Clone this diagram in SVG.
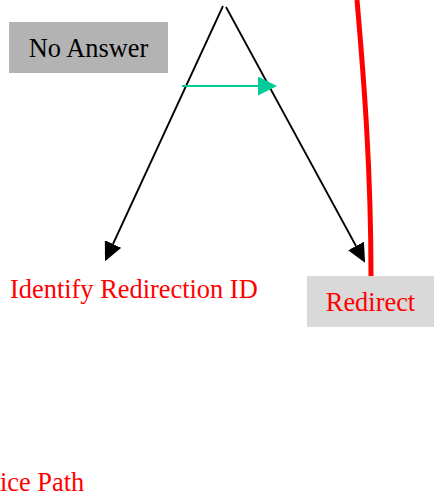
<svg xmlns="http://www.w3.org/2000/svg" width="436" height="498" viewBox="0 0 436 498">
  <style>
    .lbl { font-family: "Liberation Serif", "Times New Roman", serif; font-size: 26.4px; }
    .red { fill: #ff0000; }
    .blk { fill: #000000; }
    .edge { fill: none; stroke: #000000; stroke-width: 1.8; }
  </style>
  <defs>
    <marker id="headBlack" viewBox="0 0 19 18" refX="0" refY="9" markerWidth="19" markerHeight="18" markerUnits="userSpaceOnUse" orient="auto">
      <path d="M0,0 L19,9 L0,18 Z" fill="#000000"/>
    </marker>
    <marker id="headGreen" viewBox="0 0 19 19" refX="0" refY="9.5" markerWidth="19" markerHeight="19" markerUnits="userSpaceOnUse" orient="auto">
      <path d="M0,0 L19,9.5 L0,19 Z" fill="#00cc99"/>
    </marker>
  </defs>

  <g id="connectors">
    <path class="edge" d="M223,6 L113,244" marker-end="url(#headBlack)"/>
    <path class="edge" d="M226,7 L356,246" marker-end="url(#headBlack)"/>
    <path d="M182,86 L258,86" fill="none" stroke="#00cc99" stroke-width="2" marker-end="url(#headGreen)"/>
    <path d="M357,0 C364,80 371,170 371,277" fill="none" stroke="#ff0000" stroke-width="5"/>
  </g>

  <g id="no-answer">
    <rect x="9" y="22" width="159" height="51" fill="#b3b3b3"/>
    <text class="lbl blk" x="88.5" y="57" text-anchor="middle">No Answer</text>
  </g>

  <g id="identify-redirection-id">
    <text class="lbl red" x="10" y="298">Identify Redirection ID</text>
  </g>

  <g id="redirect">
    <rect x="307" y="276" width="127" height="51" fill="#d9d9d9"/>
    <text class="lbl red" x="370.5" y="310.5" text-anchor="middle">Redirect</text>
  </g>

  <g id="path-label">
    <text class="lbl red" x="0" y="491">ice Path</text>
  </g>
</svg>
